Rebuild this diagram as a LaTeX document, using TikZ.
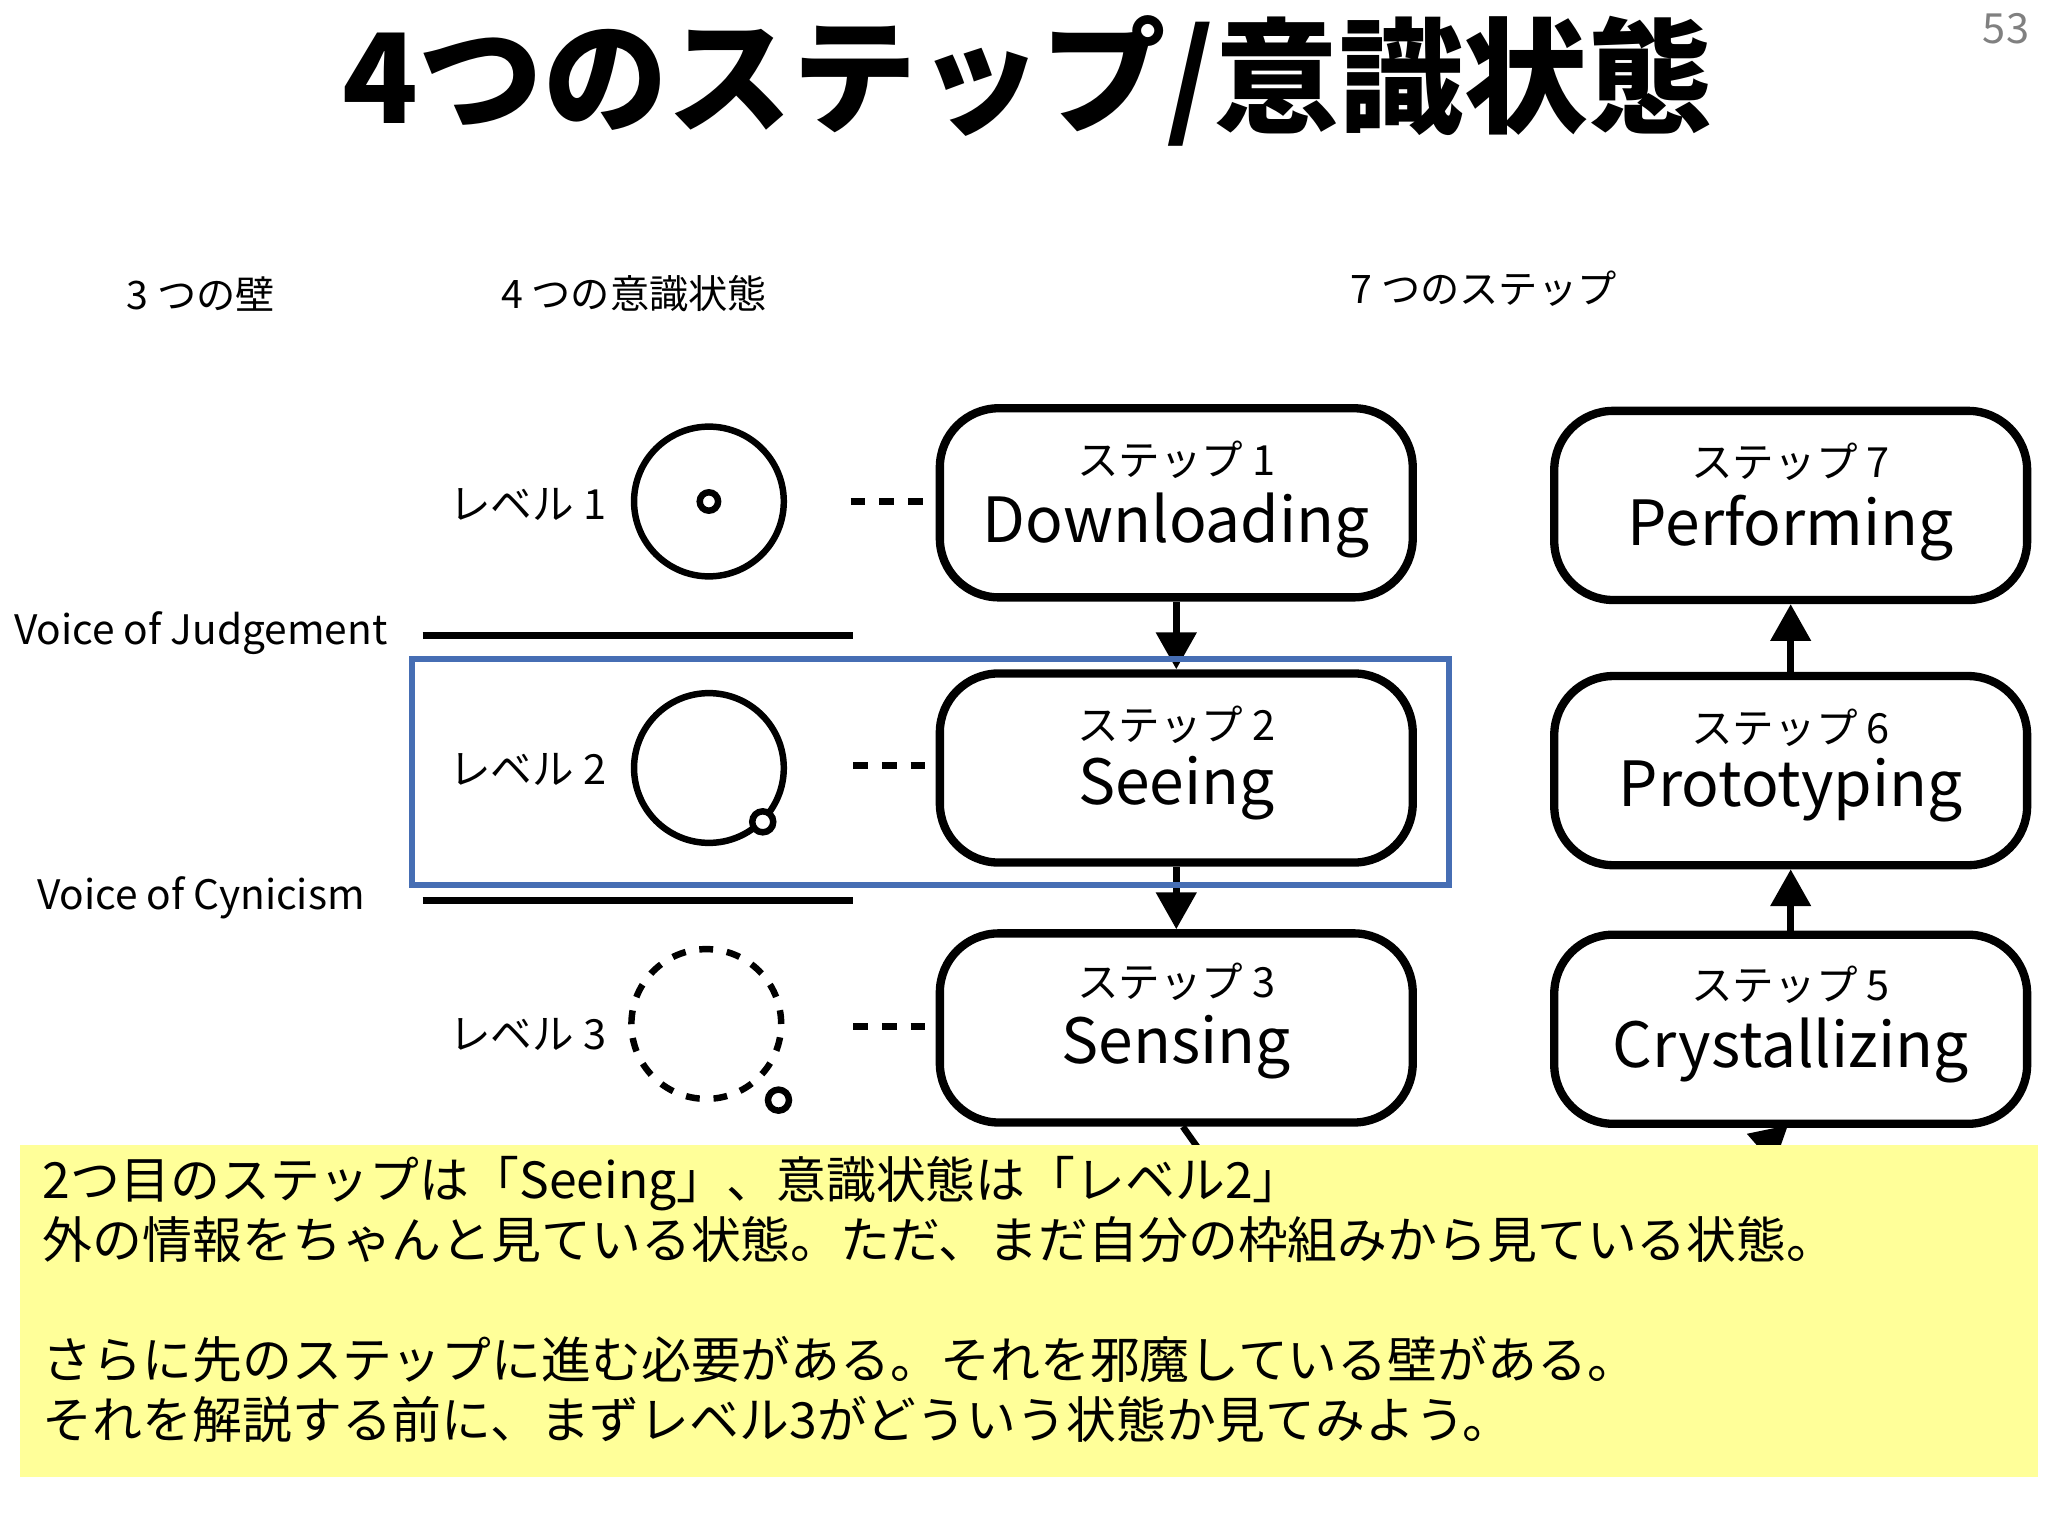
\documentclass[tikz,border=0pt]{standalone}
\usepackage{fontspec}
\setmainfont{Noto Sans CJK JP}
\usetikzlibrary{arrows.meta}
\definecolor{hiblue}{RGB}{70,110,180}
\definecolor{hiyel}{RGB}{255,255,153}
\begin{document}
\begin{tikzpicture}[x=0.01cm,y=-0.01cm,
 sbox/.style={draw,line width=1.8pt,rounded corners=0.45cm,minimum width=3.6cm,minimum height=1.44cm,align=center,inner sep=0pt},
 sub/.style={font=\fontsize{9}{11}\selectfont},
 big/.style={font=\fontsize{13.5}{16}\selectfont},
 arr/.style={line width=1.4pt,-{Triangle[width=0.3cm,length=0.28cm]}},
 lab/.style={font=\fontsize{9}{11}\selectfont},
 hd/.style={font=\fontsize{8.5}{10}\selectfont},
 vo/.style={font=\fontsize{8.8}{10}\selectfont},
 dashc/.style={line width=1.4pt,dash pattern=on 3.2pt off 3pt}]
\useasboundingbox (0,0) rectangle (1560,1170);
\fill[white] (0,0) rectangle (1560,1170);
\node[font=\bfseries\fontsize{27}{30}\selectfont] (title) at (783,62) {4つのステップ/意識状態};
\node[text=gray,font=\fontsize{9}{10}\selectfont] (pg) at (1528,22) {53};
\node[hd] (h1) at (153,224) {3 つの壁};
\node[hd] (h2) at (483,224) {4 つの意識状態};
\node[hd] (h3) at (1130,220) {7 つのステップ};
% boxes
\node[sbox] (s1) at (896,383) {};
\node[sub] at (896,350) {ステップ 1};\node[big] at (896,400) {Downloading};
\node[sbox] (s2) at (896,585) {};
\node[sub] at (896,552) {ステップ 2};\node[big] at (896,600) {Seeing};
\node[sbox] (s3) at (896,783) {};
\node[sub] at (896,748) {ステップ 3};\node[big] at (896,798) {Sensing};
\node[sbox] (s7) at (1364,385) {};
\node[sub] at (1364,352) {ステップ 7};\node[big] at (1364,402) {Performing};
\node[sbox] (s6) at (1364,587) {};
\node[sub] at (1364,554) {ステップ 6};\node[big] at (1364,602) {Prototyping};
\node[sbox] (s5) at (1364,784) {};
\node[sub] at (1364,750) {ステップ 5};\node[big] at (1364,800) {Crystallizing};
\draw[arr] (s1.south) -- (s2.north);
\draw[arr] (s2.south) -- (s3.north);
\draw[arr] (s6.north) -- (s7.south);
\draw[arr] (s5.north) -- (s6.south);
\coordinate (d1) at (920,885);
\draw[line width=1.4pt] (s3.south) ++(5,0) -- (d1);
\coordinate (d2) at (1330,885);
\draw[arr] (d2) -- (1362,857);
% circles
\draw[line width=1.4pt] (540,382) circle[radius=0.57cm];
\draw[line width=1.4pt] (540,382) circle[radius=0.07cm];
\draw[line width=1.4pt] (540,585) circle[radius=0.57cm];
\draw[line width=1.4pt,fill=white] (581,626) circle[radius=0.08cm];
\draw[line width=1.4pt,dash pattern=on 3pt off 3pt] (538,780) circle[radius=0.57cm];
\draw[line width=1.4pt] (593,838) circle[radius=0.08cm];
\node[lab] (l1) at (402,384) {レベル 1};
\node[lab] (l2) at (402,586) {レベル 2};
\node[lab] (l3) at (402,788) {レベル 3};
\draw[dashc] (648,382) -- (710,382);
\draw[dashc] (650,583) -- (712,583);
\draw[dashc] (650,782) -- (712,782);
\draw[line width=1.4pt] (322,484) -- (650,484);
\draw[line width=1.4pt] (322,686) -- (650,686);
\node[vo] (vj) at (153,482) {Voice of Judgement};
\node[vo] (vc) at (153,684) {Voice of Cynicism};
\draw[hiblue,line width=1.3pt] (314,502) rectangle (1104,674);
% yellow
\fill[hiyel] (15,872) rectangle (1552,1125);
\node[anchor=north west,align=left,font=\fontsize{10.8}{13}\selectfont,inner sep=0pt] (txt) at (32,880) {2つ目のステップは「Seeing」、意識状態は「レベル2」\\外の情報をちゃんと見ている状態。ただ、まだ自分の枠組みから見ている状態。\\ \\さらに先のステップに進む必要がある。それを邪魔している壁がある。\\それを解説する前に、まずレベル3がどういう状態か見てみよう。};
\end{tikzpicture}
\end{document}
